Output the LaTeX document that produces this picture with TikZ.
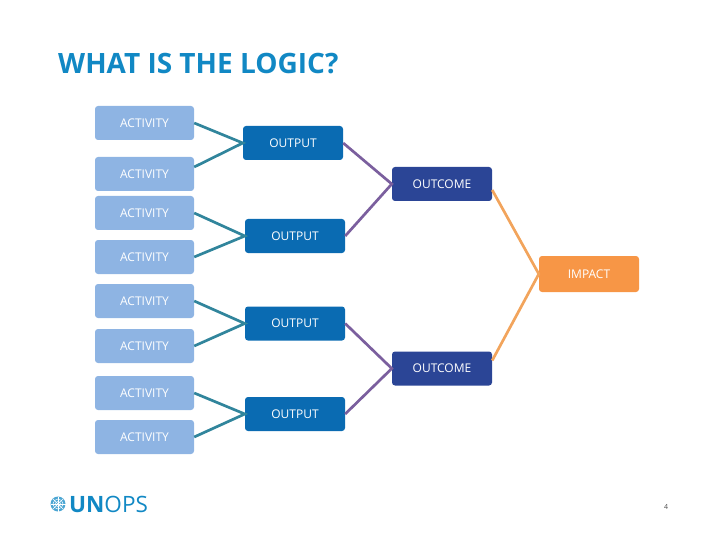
\documentclass[tikz,border=0pt]{standalone}
\usepackage{fontspec}
\setmainfont{Open Sans}
\usetikzlibrary{calc}
\definecolor{act}{HTML}{8EB4E3}
\definecolor{outp}{HTML}{0A6BB2}
\definecolor{outc}{HTML}{2B4596}
\definecolor{imp}{HTML}{F79646}
\definecolor{teal}{HTML}{31859C}
\definecolor{purp}{HTML}{7B5F9E}
\definecolor{oran}{HTML}{F2A45C}
\definecolor{titl}{HTML}{1188C4}
\tikzset{
 bx/.style={minimum width=100pt,minimum height=34pt,inner sep=0pt,rounded corners=3pt,text=white,font=\fontsize{12}{14}\selectfont,text depth=0pt},
 actbox/.style={bx,fill=act,minimum width=99pt},
 outbox/.style={bx,fill=outp},
 ocbox/.style={bx,fill=outc},
 impbox/.style={bx,fill=imp,minimum height=36pt},
 tl/.style={draw=teal,line width=2.7pt},
 pl/.style={draw=purp,line width=2.7pt},
 ol/.style={draw=oran,line width=2.7pt},
}
\begin{document}
\begin{tikzpicture}[x=1pt,y=-1pt]
\useasboundingbox (0,0) rectangle (720,540);
\node[anchor=west,inner sep=0pt,text=titl,font=\fontsize{28}{32}\selectfont\bfseries] (title) at (58,64) {WHAT IS THE LOGIC?};
\node[actbox] (a1) at (144.5,123) {ACTIVITY};
\node[actbox] (a2) at (144.5,174) {ACTIVITY};
\node[actbox] (a3) at (144.5,213) {ACTIVITY};
\node[actbox] (a4) at (144.5,257) {ACTIVITY};
\node[actbox] (a5) at (144.5,301) {ACTIVITY};
\node[actbox] (a6) at (144.5,346) {ACTIVITY};
\node[actbox] (a7) at (144.5,393) {ACTIVITY};
\node[actbox] (a8) at (144.5,437) {ACTIVITY};
\node[outbox] (o1) at (293,143) {OUTPUT};
\node[outbox] (o2) at (295,236) {OUTPUT};
\node[outbox] (o3) at (295,323.5) {OUTPUT};
\node[outbox] (o4) at (295,414) {OUTPUT};
\node[ocbox] (c1) at (442,184) {OUTCOME};
\node[ocbox] (c2) at (442,368.5) {OUTCOME};
\node[impbox] (i) at (589,274) {IMPACT};
\draw[tl] (a1.east) -- (o1.west) -- ($(a2.east)+(0,-7)$);
\draw[tl] (a3.east) -- (o2.west) -- (a4.east);
\draw[tl] (a5.east) -- (o3.west) -- (a6.east);
\draw[tl] (a7.east) -- (o4.west) -- (a8.east);
\draw[pl] (o1.east) -- (c1.west) -- (o2.east);
\draw[pl] (o3.east) -- (c2.west) -- (o4.east);
\draw[ol] ($(c1.east)+(0,6)$) -- (i.west) -- ($(c2.east)+(0,-8)$);
% logo
\begin{scope}[shift={(58,504)}]
\fill[titl!75] (0,0) circle (7.5);
\foreach \r in {2.5,5}{\draw[white,line width=.5pt] (0,0) circle (\r);}
\foreach \a in {0,45,90,135}{\draw[white,line width=.5pt] (\a:7.5) -- (\a+180:7.5);}
\end{scope}
\node[anchor=west,inner sep=0pt,text=titl,font=\fontsize{22.5}{26}\selectfont] (logo) at (69,504) {\textbf{UN}OPS};
\node[text=black!70,font=\fontsize{7}{8}\selectfont] (pg) at (666,507) {4};
\end{tikzpicture}
\end{document}
